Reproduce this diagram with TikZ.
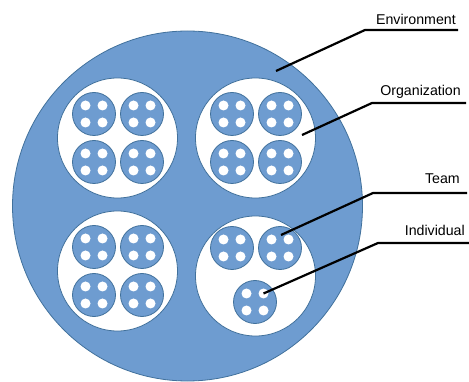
\documentclass[tikz,border=0pt]{standalone}
\usepackage{fontspec}
\setmainfont{Liberation Sans}
\definecolor{fillblue}{RGB}{110,156,208}
\definecolor{lineblue}{RGB}{65,113,156}
\begin{document}
\begin{tikzpicture}[x=1pt, y=-1pt,
    env/.style={circle, draw=lineblue, line width=0.8pt, fill=fillblue, minimum size=350pt, inner sep=0pt},
    org/.style={circle, draw=lineblue, line width=0.8pt, fill=white, minimum size=120pt, inner sep=0pt},
    team/.style={circle, draw=lineblue, line width=0.8pt, fill=fillblue, minimum size=43pt, inner sep=0pt},
    ind/.style={circle, fill=white, minimum size=10pt, inner sep=0pt},
    leader/.style={line width=2.2pt},
    lbl/.style={anchor=base east, inner sep=0pt, font=\fontsize{14.2}{16}\selectfont}]
	\useasboundingbox (0,0) rectangle (469,382);
	\node[env] (env) at (187.5,206) {};
	\foreach \n/\x/\y in {1/117.5/138, 2/255.5/138, 3/117.5/271, 4/255.5/276}
		\node[org] (org\n) at (\x,\y) {};
	\foreach \n/\x/\y in {1/94/114, 2/142/114, 3/94/162, 4/142/162,
	    5/232/114, 6/280/114, 7/232/162, 8/280/162,
	    9/94/247, 10/142/247, 11/94/295, 12/142/295,
	    13/232/248, 14/280/248, 15/255/302}{
		\node[team] (tm\n) at (\x,\y) {};
		\foreach \dx/\dy [count=\k] in {-8.5/-8.5, 8.5/-8.5, -8.5/8.5, 8.5/8.5}
			\node[ind] (tm\n-\k) at ([shift={(\dx,\dy)}]tm\n) {};}
	% labels
	\node[lbl] (envlbl) at (456,25) {Environment};
	\node[lbl] (orglbl) at (461,96) {Organization};
	\node[lbl] (tmlbl) at (460,184) {Team};
	\node[lbl] (indlbl) at (465,236) {Individual};
	\coordinate (envpt) at (276,71);
	\coordinate (orgpt) at (302,135);
	\coordinate (tmpt) at (281,235);
	\coordinate (envend) at (458,30);
	\coordinate (orgend) at (466,103);
	\coordinate (tmend) at (467,193);
	\coordinate (indend) at (469,243);
	\draw[leader] (envpt) -- (365,30) -- (envend);
	\draw[leader] (orgpt) -- (372,103) -- (orgend);
	\draw[leader] (tmpt) -- (373,193) -- (tmend);
	\draw[leader] (tm15-2.center) -- (378,243) -- (indend);
\end{tikzpicture}
\end{document}
